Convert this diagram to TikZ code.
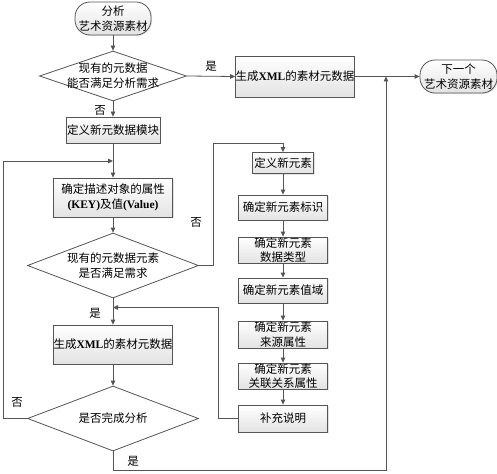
\documentclass[tikz,border=0pt]{standalone}
\usepackage{fontspec}
\setmainfont{Noto Sans CJK SC}
\newfontfamily\latf{Liberation Serif}
\newcommand{\lt}[1]{{\latf\bfseries #1}}
\usetikzlibrary{shapes.geometric,arrows.meta,shadows}
\definecolor{lnc}{RGB}{85,85,85}
\tikzset{
  base/.style={draw=lnc, line width=0.8pt, top color=white, bottom color=gray!22,
    drop shadow={shadow xshift=1pt, shadow yshift=-1pt, fill=gray!45},
    font=\fontsize{11.5pt}{14.5pt}\selectfont, align=center, inner sep=0pt},
  box/.style={base, rectangle},
  term/.style={base, rectangle, rounded corners=15pt},
  dia/.style={draw=lnc, line width=0.8pt, fill=white, diamond, inner sep=0pt},
  arr/.style={draw=lnc, line width=0.8pt, -{Triangle[length=5pt,width=4.5pt]}},
  ln/.style={draw=lnc, line width=0.8pt},
  lab/.style={font=\fontsize{11.5pt}{15pt}\selectfont, inner sep=0pt}
}
\begin{document}
\begin{tikzpicture}[x=1pt,y=-1pt]
\useasboundingbox (0,0) rectangle (497,473);
% main column
\node[term, minimum width=76pt, minimum height=33pt] (start) at (113,18.5) {分析\\艺术资源素材};
\node[dia, minimum width=147pt, minimum height=50pt,
  label={[lab,align=center]center:现有的元数据\\能否满足分析需求}] (d1) at (113,76) {};
\node[box, minimum width=118pt, minimum height=41pt] (gen1) at (295,76.5) {生成\lt{XML}的素材元数据};
\node[term, minimum width=77pt, minimum height=33pt] (next) at (458.5,76.5) {下一个\\艺术资源素材};
\node[box, minimum width=94pt, minimum height=26pt] (defm) at (113,130) {定义新元数据模块};
\node[box, minimum width=119pt, minimum height=39pt] (key) at (113,197.5) {确定描述对象的属性\\\lt{(KEY)}及值\lt{(Value)}};
\node[dia, minimum width=171pt, minimum height=65pt,
  label={[lab,align=center]center:现有的元数据元素\\是否满足需求}] (d2) at (113,265.5) {};
\node[box, minimum width=118pt, minimum height=39pt] (gen2) at (113,344.5) {生成\lt{XML}的素材元数据};
\node[dia, minimum width=171pt, minimum height=65pt,
  label={[lab]center:是否完成分析}] (d3) at (113,418.5) {};
% right column
\node[box, minimum width=61pt, minimum height=21pt] (e1) at (283,163) {定义新元素};
\node[box, minimum width=89pt, minimum height=25pt] (e2) at (283,207.5) {确定新元素标识};
\node[box, minimum width=89pt, minimum height=26pt] (e3) at (283,250) {确定新元素\\数据类型};
\node[box, minimum width=89pt, minimum height=25pt] (e4) at (283,290.5) {确定新元素值域};
\node[box, minimum width=89pt, minimum height=27pt] (e5) at (283,334.5) {确定新元素\\来源属性};
\node[box, minimum width=89pt, minimum height=26pt] (e6) at (283,376) {确定新元素\\关联关系属性};
\node[box, minimum width=89pt, minimum height=27pt] (e7) at (283,418.5) {补充说明};
% junction coordinates
\coordinate (j1) at (113,161);
\coordinate (j2) at (113,307.5);
\coordinate (j3) at (386,76.5);
% connectors
\draw[arr] (start) -- (d1);
\draw[arr] (d1.east) -- node[lab, above=4pt, pos=0.5] {是} (gen1.west);
\draw[arr] (gen1.east) -- (next.west);
\draw[arr] (d1.south) -- (defm.north);
\node[lab] at (100,110) {否};
\draw[arr] (defm.south) -- (key.north);
\draw[arr] (key.south) -- (d2.north);
\draw[arr] (d2.east) -- (213,265.5) -- (213,143) -- (283,143) -- (e1.north);
\node[lab] at (196,222) {否};
\draw[arr] (e1) -- (e2);
\draw[arr] (e2) -- (e3);
\draw[arr] (e3) -- (e4);
\draw[arr] (e4) -- (e5);
\draw[arr] (e5) -- (e6);
\draw[arr] (e6) -- (e7);
\draw[arr] (e7.west) -- (218,418.5) -- (218,307.5) -- (j2);
\draw[arr] (d2.south) -- (gen2.north);
\node[lab] at (95,313) {是};
\draw[arr] (gen2.south) -- (d3.north);
\draw[arr] (d3.west) -- (3,418.5) -- (3,161) -- (j1);
\node[lab] at (17,402) {否};
\draw[arr] (d3.south) -- (113,470) -- (386,470) -- (j3);
\node[lab] at (133,461) {是};
\end{tikzpicture}
\end{document}
